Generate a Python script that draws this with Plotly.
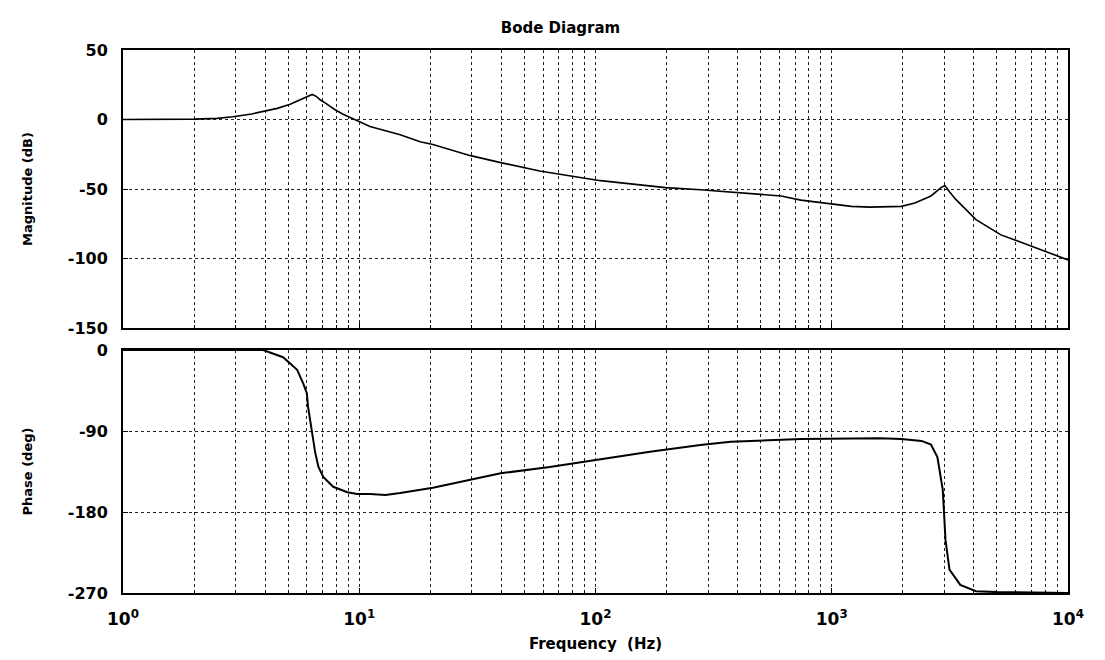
import plotly.graph_objects as go

# ---- data ----
mag_freq = [1, 1.5, 2, 2.5, 2.92, 3.5, 3.96, 4.5, 5.1, 5.7, 6.32, 6.6, 6.85, 7.17, 7.9, 8.5,
            9.6, 11.1, 14.9, 18.1, 20.5, 29.6, 39.7, 58, 105, 198, 278, 453, 610, 740,
            1017, 1210, 1450, 1970, 2250, 2630, 2900, 3010, 3150, 3350, 4080, 5200,
            6970, 10000]
mag_db = [0, 0, 0.3, 0.8, 2, 4, 6, 8, 11, 14.5, 18, 16.5, 14, 12, 7, 4,
          0, -5, -11, -16, -18, -26, -31, -37, -44, -49, -50.5, -53, -55, -58,
          -61, -62.5, -63, -62.5, -60, -55, -49, -47.5, -52, -57.5, -72, -83,
          -91, -101]

ph_freq = [1, 3.92, 4.76, 5.46, 5.79, 6.0, 6.07, 6.19, 6.31, 6.38, 6.51, 6.72, 7.04, 7.76,
           8.9, 9.8, 11.1, 12.9, 14.9, 20.5, 29.6, 39.7, 64, 100, 170, 278, 373, 740,
           1600, 1970, 2400, 2630, 2800, 2950, 2990, 3030, 3150, 3500, 4080, 5000, 10000]
ph_deg = [0, 0, -8, -22, -37, -48, -63, -78, -89, -100, -114, -130, -141, -152,
          -158, -160, -160, -161, -159, -153, -144, -137, -130, -122, -113, -105.5, -102, -99,
          -98, -99, -101, -105, -119, -155, -178, -211, -244, -261, -268, -269, -270]

x_major = [1, 10, 100, 1000, 10000]
x_major_text = ["10<sup>0</sup>", "10<sup>1</sup>", "10<sup>2</sup>", "10<sup>3</sup>", "10<sup>4</sup>"]
x_minor = [k * 10 ** n for n in range(4) for k in range(2, 10)]
mag_ticks = [50, 0, -50, -100, -150]
mag_ticktext = ["50", "0", "-50", "-100", "-150"]
ph_ticks = [0, -90, -180, -270]
ph_ticktext = ["0", "-90", "-180", "-270"]

FONT = "DejaVu Sans"
GRID = dict(showgrid=True, gridcolor="#222", griddash="dot", gridwidth=1)

fig = go.Figure()
fig.add_trace(go.Scatter(x=mag_freq, y=mag_db, mode="lines",
                         line=dict(color="black", width=1.6), xaxis="x", yaxis="y",
                         showlegend=False))
fig.add_trace(go.Scatter(x=ph_freq, y=ph_deg, mode="lines",
                         line=dict(color="black", width=2), xaxis="x2", yaxis="y2",
                         showlegend=False))

common_x = dict(GRID, type="log", range=[0, 4], tickvals=x_major, ticktext=x_major_text,
                minor=dict(GRID, tickvals=x_minor, ticks="inside", ticklen=3, tickcolor="black"),
                showline=True, mirror=True, linecolor="black", linewidth=2,
                ticks="inside", ticklen=5, tickcolor="black", zeroline=False,
                automargin=False)
common_y = dict(GRID, showline=True, mirror=True, linecolor="black", linewidth=2,
                ticks="inside", ticklen=5, tickcolor="black", zeroline=False,
                ticklabelstandoff=10, automargin=False,
                tickfont=dict(family=FONT, size=16, color="black", weight="bold"))

fig.update_layout(
    width=1105, height=660,
    margin=dict(l=115, r=45, t=42, b=75, autoexpand=False),
    paper_bgcolor="white", plot_bgcolor="white",
    title=dict(text="Bode Diagram", x=0.5, xanchor="center", y=0.97, yanchor="middle",
               font=dict(family=FONT, size=15, color="black", weight="bold")),
    xaxis=dict(common_x, domain=[0, 1], anchor="y", showticklabels=False, matches="x2"),
    xaxis2=dict(common_x, domain=[0, 1], anchor="y2", ticklabelstandoff=10,
                tickfont=dict(family=FONT, size=17, color="black", weight="bold"),
                title=dict(text="Frequency  (Hz)", standoff=10,
                           font=dict(family=FONT, size=15, color="black", weight="bold"))),
    yaxis=dict(common_y, domain=[0.488, 1], anchor="x", range=[-150, 50],
               tickvals=mag_ticks, ticktext=mag_ticktext,
               title=dict(text="Magnitude (dB)", standoff=32,
                          font=dict(family=FONT, size=13, color="black", weight="bold"))),
    yaxis2=dict(common_y, domain=[0, 0.4475], anchor="x2", range=[-270, 0],
                tickvals=ph_ticks, ticktext=ph_ticktext,
                title=dict(text="Phase (deg)", standoff=32,
                           font=dict(family=FONT, size=13, color="black", weight="bold"))),
)

fig.write_html("out.html")
